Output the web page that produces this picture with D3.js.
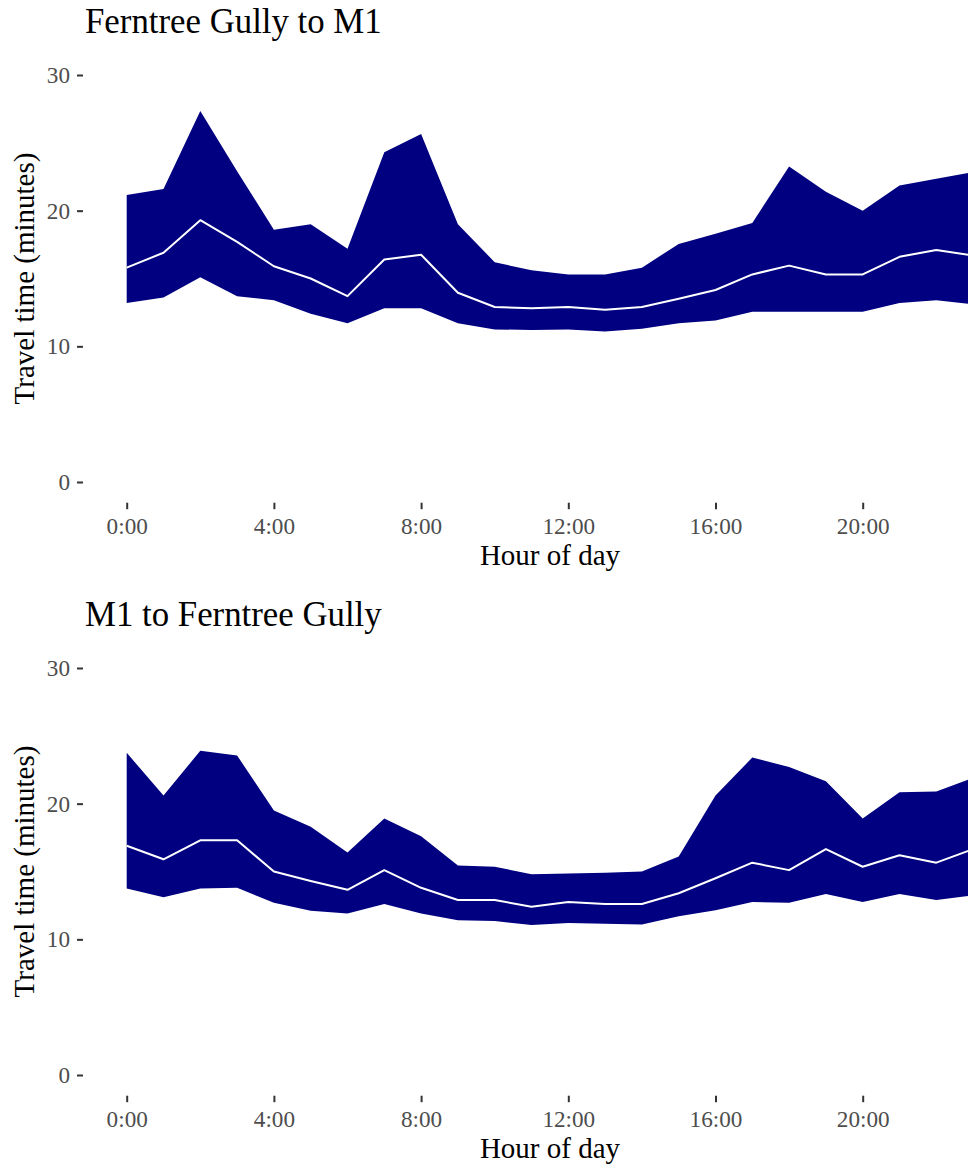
<!DOCTYPE html>
<html>
<head>
<meta charset="utf-8">
<script src="https://cdn.jsdelivr.net/npm/d3@7"></script>
<style>
  html, body { margin: 0; padding: 0; background: #fff; }
  svg { display: block; }
  text { font-family: "Liberation Serif", "Times New Roman", serif; }
</style>
</head>
<body>
<svg id="chart" width="968" height="1166"></svg>
<script>
// ---- Data ----
const hours = [0,1,2,3,4,5,6,7,8,9,10,11,12,13,14,15,16,17,18,19,20,21,22,23];
const xTickValues = [0, 4, 8, 12, 16, 20];
const xTickLabels = ["0:00", "4:00", "8:00", "12:00", "16:00", "20:00"];
const yTickValues = [0, 10, 20, 30];

const panelTitles = ["Ferntree Gully to M1", "M1 to Ferntree Gully"];

// Ferntree Gully to M1
const ftgLower  = [13.2,13.6,15.1,13.7,13.4,12.4,11.7,12.8,12.8,11.7,11.25,11.2,11.25,11.1,11.3,11.7,11.9,12.55,12.55,12.55,12.55,13.2,13.4,13.1];
const ftgMedian = [15.8,16.9,19.3,17.7,15.9,15.0,13.7,16.4,16.75,13.95,12.9,12.8,12.9,12.7,12.9,13.5,14.15,15.3,15.95,15.3,15.3,16.6,17.1,16.7];
const ftgUpper  = [21.15,21.6,27.35,22.9,18.6,19.0,17.2,24.3,25.65,19.0,16.2,15.6,15.3,15.3,15.8,17.55,18.3,19.1,23.25,21.4,20.0,21.85,22.35,22.85];

// M1 to Ferntree Gully
const m1Lower  = [13.75,13.1,13.75,13.8,12.7,12.1,11.9,12.6,11.9,11.4,11.35,11.05,11.2,11.15,11.1,11.7,12.15,12.75,12.7,13.35,12.75,13.35,12.9,13.25];
const m1Median = [16.9,15.9,17.3,17.3,15.0,14.3,13.65,15.1,13.8,12.9,12.9,12.4,12.75,12.6,12.6,13.4,14.5,15.65,15.1,16.65,15.35,16.2,15.65,16.65];
const m1Upper  = [23.75,20.6,23.9,23.55,19.5,18.3,16.4,18.9,17.6,15.45,15.35,14.8,14.85,14.9,15.0,16.1,20.6,23.4,22.7,21.65,18.9,20.85,20.9,21.9];

const panelLower  = [ftgLower, m1Lower];
const panelMedian = [ftgMedian, m1Median];
const panelUpper  = [ftgUpper, m1Upper];

// ---- Drawing ----
const svg = d3.select("#chart");
const panelOffset = 593;
const tickColor = "#333333";
const labelColor = "#4D4D4D";

const x = d3.scaleLinear().domain([0, 20]).range([126.7, 862.7]);

panelTitles.forEach((title, i) => {
  const g = svg.append("g").attr("transform", `translate(0,${i * panelOffset})`);
  const y = d3.scaleLinear().domain([0, 30]).range([482, 75]);

  const rows = hours.map((h, k) => ({
    h: h, lo: panelLower[i][k], med: panelMedian[i][k], hi: panelUpper[i][k]
  }));

  // ribbon
  const area = d3.area()
    .x(d => x(d.h))
    .y0(d => y(d.lo))
    .y1(d => y(d.hi));
  g.append("path")
    .datum(rows)
    .attr("d", area)
    .attr("fill", "#000080")
    .attr("stroke", "none");

  // median line
  const line = d3.line().x(d => x(d.h)).y(d => y(d.med));
  g.append("path")
    .datum(rows)
    .attr("d", line)
    .attr("fill", "none")
    .attr("stroke", "#ffffff")
    .attr("stroke-width", 2)
    .attr("stroke-linejoin", "round");

  // y axis
  const yAxis = d3.axisLeft(y)
    .tickValues(yTickValues)
    .tickSize(6)
    .tickPadding(7)
    .tickFormat(d3.format("d"));
  const ya = g.append("g").attr("transform", "translate(83,0)").call(yAxis);
  ya.select(".domain").remove();
  ya.selectAll(".tick line").attr("stroke", tickColor).attr("stroke-width", 2);
  ya.selectAll(".tick text")
    .attr("fill", labelColor)
    .style("font-family", '"Liberation Serif", serif')
    .style("font-size", "23.2px");

  // x axis
  const xAxis = d3.axisBottom(x)
    .tickValues(xTickValues)
    .tickSize(6.5)
    .tickPadding(8)
    .tickFormat((d, k) => xTickLabels[k]);
  const xa = g.append("g").attr("transform", "translate(0,502.7)").call(xAxis);
  xa.select(".domain").remove();
  xa.selectAll(".tick line").attr("stroke", tickColor).attr("stroke-width", 2);
  xa.selectAll(".tick text")
    .attr("fill", labelColor)
    .style("font-family", '"Liberation Serif", serif')
    .style("font-size", "23.2px");

  // axis titles
  g.append("text")
    .attr("x", 550)
    .attr("y", 565)
    .attr("text-anchor", "middle")
    .attr("fill", "#000")
    .style("font-size", "29px")
    .text("Hour of day");

  g.append("text")
    .attr("transform", "translate(33.5,278.5) rotate(-90)")
    .attr("text-anchor", "middle")
    .attr("fill", "#000")
    .style("font-size", "29px")
    .text("Travel time (minutes)");

  // panel title
  g.append("text")
    .attr("x", 85)
    .attr("y", 33)
    .attr("fill", "#000")
    .style("font-size", "34.8px")
    .text(title);
});
</script>
</body>
</html>
